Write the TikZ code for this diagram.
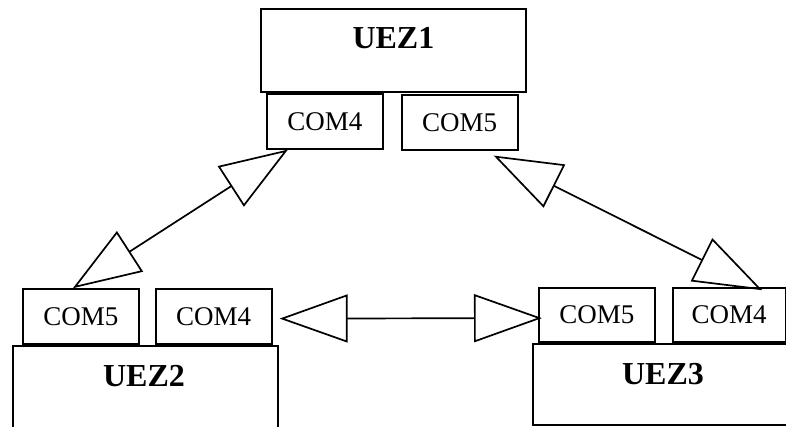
\documentclass[tikz,border=0pt]{standalone}
\usepackage{fontspec}
\setmainfont{Liberation Serif}
\usepackage{tikz}
\usetikzlibrary{positioning, arrows.meta}

\begin{document}
\begin{tikzpicture}[
    x = 1pt, y = 1pt, > = {Triangle[open, length = 68pt, width = 48pt]},
    zone/.style = {
      rectangle, draw, line width = 1.8pt, inner sep = 0pt
    },
    port/.style = {
      rectangle, draw, line width = 1.8pt, inner sep = 0pt,
      minimum width = 116pt, minimum height = 55pt,
      font = \fontsize{27}{31}\selectfont
    },
    title/.style = {
      inner sep = 0pt, font = \fontsize{32}{37}\selectfont\bfseries
    },
    link/.style = {
      <->, line width = 1.7pt
    },
    ]

    % frame of the picture
    \useasboundingbox  (0,0)  rectangle  (786,426);
    \clip  (0,0)  rectangle  (786,426);

    % draw zones
    \node  [zone, minimum width = 265pt, minimum height = 83pt, anchor = north west]  (uez1)  at  (260,418)  {};
    \node  [zone, minimum width = 265pt, minimum height = 120pt, anchor = north west]  (uez2)  at  (12,81)  {};
    \node  [zone, minimum width = 300pt, minimum height = 81pt, anchor = north west]  (uez3)  at  (532,83)  {};

    % zone titles
    \node  [title]  (t1)  [below = 19pt of uez1.north]  {UEZ1};
    \node  [title]  (t2)  [below = 20pt of uez2.north west, xshift = 132pt]  {UEZ2};
    \node  [title]  (t3)  [below = 20pt of uez3.north west, xshift = 131pt]  {UEZ3};

    % draw ports
    \node  [port]  (c14)  [below right = 0pt and 6pt of uez1.south west]  {COM4};
    \node  [port]  (c15)  [right = 17pt of c14, yshift = -1pt]  {COM5};

    \node  [port]  (c25)  [above right = 0pt and 10pt of uez2.north west]  {COM5};
    \node  [port]  (c24)  [right = 15pt of c25]  {COM4};

    \node  [port, minimum height = 54pt]  (c35)  [above right = 0pt and 6pt of uez3.north west]  {COM5};
    \node  [port, minimum height = 54pt, minimum width = 113pt]  (c34)  [right = 16pt of c35]  {COM4};

    % draw links
    \draw  [link]  ([xshift = -37pt]c14.south)  to  ([xshift = -8pt]c25.north);
    \draw  [link]  ([xshift = 34pt, yshift = -5pt]c15.south)  to  ([xshift = 33pt, yshift = -3pt]c34.north);
    \draw  [link]  ([xshift = 7pt, yshift = -2pt]c24.east)  to  ([xshift = 4pt, yshift = -3pt]c35.west);
\end{tikzpicture}
\end{document}
